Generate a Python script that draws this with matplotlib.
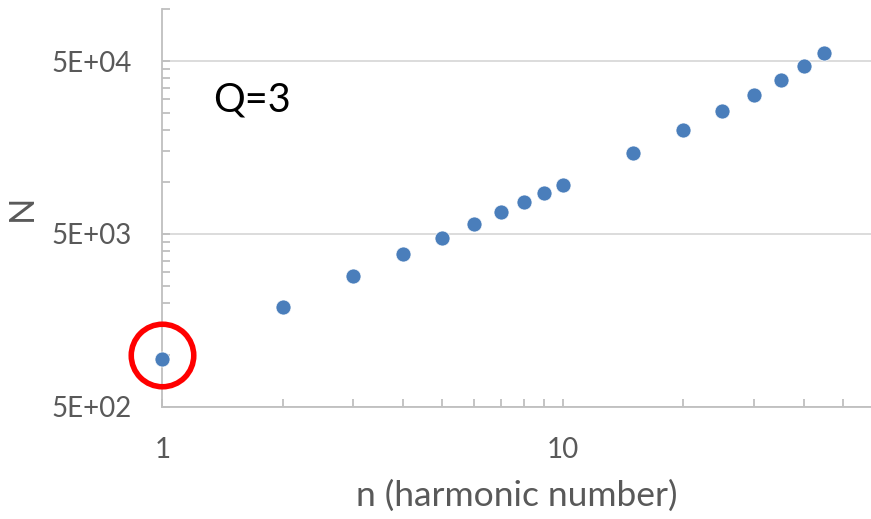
import matplotlib
matplotlib.use("Agg")
import matplotlib.pyplot as plt
from matplotlib.ticker import FixedLocator, NullFormatter, FixedFormatter
import numpy as np

n_values = [1, 2, 3, 4, 5, 6, 7, 8, 9, 10, 15, 20, 25, 30, 35, 40, 45]
N_values = [948, 1896, 2853, 3809, 4753, 5704, 6670, 7617, 8590, 9553,
            14636, 19967, 25612, 31826, 38870, 46840, 55910]
y_major = [500, 5000, 50000]
y_major_labels = ["5E+02", "5E+03", "5E+04"]
x_major = [1, 10]
x_major_labels = ["1", "10"]
highlight_index = 0

plt.rcParams['font.family'] = ['Lato', 'DejaVu Sans']

W, H = 871, 519
fig = plt.figure(figsize=(W / 100, H / 100), dpi=100)
ax_left, ax_bottom_px, ax_top_px = 162.3, 406.7, 9
ax = fig.add_axes([ax_left / W, 1 - ax_bottom_px / H, 1 - ax_left / W,
                   (ax_bottom_px - ax_top_px) / H])

ax.set_xscale('log')
ax.set_yscale('log')
ax.set_xlim(1, 10 ** ((W - ax_left) / 400.4))
ax.set_ylim(500, 500 * 10 ** ((ax_bottom_px - ax_top_px) / 172.8))

ax.plot(n_values, N_values, linestyle='none', marker='o', ms=10.8,
        color='#4a7ebb', mec='white', mew=0.5, zorder=3, clip_on=False)

ax.plot(n_values[highlight_index], N_values[highlight_index] * 1.05, marker='o',
        ms=45, mfc='none', mec='#ff0000', mew=4.0, linestyle='none',
        zorder=4, clip_on=False)

# ticks
ax.yaxis.set_major_locator(FixedLocator(y_major))
ax.yaxis.set_major_formatter(FixedFormatter(y_major_labels))
y_minor = [500 * k * 10 ** d for d in range(0, 3) for k in range(2, 10)]
ax.yaxis.set_minor_locator(FixedLocator(y_minor))
ax.yaxis.set_minor_formatter(NullFormatter())

ax.xaxis.set_major_locator(FixedLocator(x_major))
ax.xaxis.set_major_formatter(FixedFormatter(x_major_labels))
x_minor = [k * 10 ** d for d in range(0, 2) for k in range(2, 10)]
ax.xaxis.set_minor_locator(FixedLocator(x_minor))
ax.xaxis.set_minor_formatter(NullFormatter())

spine_color = '#bfbfbf'
for s in ['top', 'right']:
    ax.spines[s].set_visible(False)
for s in ['left', 'bottom']:
    ax.spines[s].set_color(spine_color)
    ax.spines[s].set_linewidth(1.3)

ax.tick_params(axis='both', which='both', direction='in', color=spine_color,
               width=1.3, labelcolor='#595959', labelsize=20)
ax.tick_params(axis='both', which='both', length=6)
ax.tick_params(axis='y', which='major', pad=22)
ax.tick_params(axis='x', which='major', pad=22)

ax.grid(True, axis='y', which='major', color='#d9d9d9', linewidth=1.3)
ax.set_axisbelow(True)

ax.set_xlabel("n (harmonic number)", fontsize=25.5, color='#595959')
ax.xaxis.label.set_va('center')
ax.xaxis.set_label_coords(0.5, (ax_bottom_px - 496) / (ax_bottom_px - ax_top_px))
ax.set_ylabel("N", fontsize=25, color='#595959')
ax.yaxis.label.set_va('center')
ax.yaxis.set_label_coords((22 - ax_left) / (W - ax_left), 0.5)

fig.text(213 / W, 1 - 100 / H, "Q=3", fontsize=28.5, color='black',
         va='center', ha='left')

fig.savefig("out.png", dpi=100)
